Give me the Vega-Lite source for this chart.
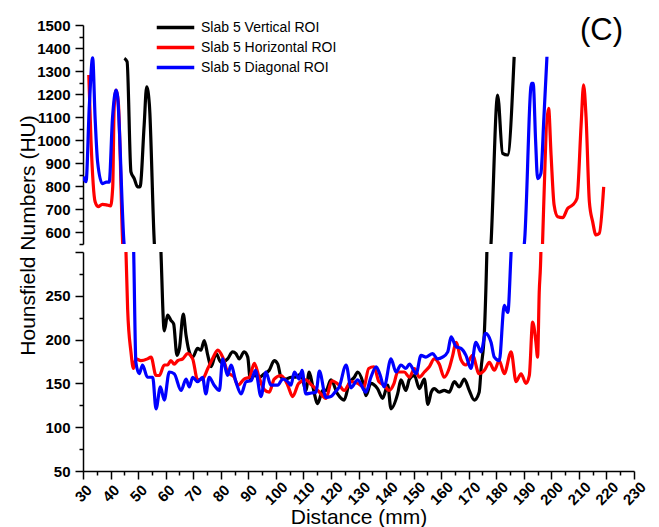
{
  "$schema": "https://vega.github.io/schema/vega-lite/v6.json",
  "padding": {"left": 17, "top": 15, "right": 5, "bottom": 2},
  "bounds": "flush",
  "config": {
    "font": "Liberation Sans",
    "view": {"stroke": null},
    "axis": {
      "grid": false,
      "domainColor": "black",
      "domainWidth": 1.5,
      "tickColor": "black",
      "tickWidth": 1.5,
      "labelFont": "Liberation Sans",
      "labelFontWeight": "bold",
      "labelFontSize": 15,
      "labelColor": "black",
      "labelOverlap": false,
      "titleFont": "Liberation Sans",
      "titleFontWeight": "normal",
      "titleFontSize": 21,
      "titleColor": "black"
    }
  },
  "data": {
    "values": [
      {"series": "Slab 5 Vertical ROI", "d": 45.0, "hu": 1355},
      {"series": "Slab 5 Vertical ROI", "d": 46.0, "hu": 1341},
      {"series": "Slab 5 Vertical ROI", "d": 47.4, "hu": 863},
      {"series": "Slab 5 Vertical ROI", "d": 48.6, "hu": 834},
      {"series": "Slab 5 Vertical ROI", "d": 49.8, "hu": 798},
      {"series": "Slab 5 Vertical ROI", "d": 50.7, "hu": 798},
      {"series": "Slab 5 Vertical ROI", "d": 52.2, "hu": 1066},
      {"series": "Slab 5 Vertical ROI", "d": 53.1, "hu": 1232},
      {"series": "Slab 5 Vertical ROI", "d": 54.1, "hu": 1153},
      {"series": "Slab 5 Vertical ROI", "d": 55.9, "hu": 552},
      {"series": "Slab 5 Vertical ROI", "d": 58.3, "hu": 300},
      {"series": "Slab 5 Vertical ROI", "d": 59.5, "hu": 210},
      {"series": "Slab 5 Vertical ROI", "d": 60.7, "hu": 228},
      {"series": "Slab 5 Vertical ROI", "d": 61.9, "hu": 222},
      {"series": "Slab 5 Vertical ROI", "d": 62.9, "hu": 218},
      {"series": "Slab 5 Vertical ROI", "d": 64.1, "hu": 182},
      {"series": "Slab 5 Vertical ROI", "d": 65.0, "hu": 190},
      {"series": "Slab 5 Vertical ROI", "d": 66.4, "hu": 229},
      {"series": "Slab 5 Vertical ROI", "d": 67.4, "hu": 205},
      {"series": "Slab 5 Vertical ROI", "d": 68.4, "hu": 188},
      {"series": "Slab 5 Vertical ROI", "d": 69.8, "hu": 180},
      {"series": "Slab 5 Vertical ROI", "d": 71.6, "hu": 190},
      {"series": "Slab 5 Vertical ROI", "d": 72.8, "hu": 188},
      {"series": "Slab 5 Vertical ROI", "d": 74.0, "hu": 199},
      {"series": "Slab 5 Vertical ROI", "d": 75.3, "hu": 182},
      {"series": "Slab 5 Vertical ROI", "d": 76.5, "hu": 169},
      {"series": "Slab 5 Vertical ROI", "d": 78.3, "hu": 184},
      {"series": "Slab 5 Vertical ROI", "d": 80.1, "hu": 174},
      {"series": "Slab 5 Vertical ROI", "d": 82.5, "hu": 178},
      {"series": "Slab 5 Vertical ROI", "d": 84.3, "hu": 186},
      {"series": "Slab 5 Vertical ROI", "d": 85.5, "hu": 184},
      {"series": "Slab 5 Vertical ROI", "d": 86.7, "hu": 178},
      {"series": "Slab 5 Vertical ROI", "d": 88.5, "hu": 186},
      {"series": "Slab 5 Vertical ROI", "d": 89.8, "hu": 180},
      {"series": "Slab 5 Vertical ROI", "d": 90.7, "hu": 155},
      {"series": "Slab 5 Vertical ROI", "d": 92.2, "hu": 159},
      {"series": "Slab 5 Vertical ROI", "d": 94.0, "hu": 157},
      {"series": "Slab 5 Vertical ROI", "d": 95.8, "hu": 161},
      {"series": "Slab 5 Vertical ROI", "d": 97.6, "hu": 165},
      {"series": "Slab 5 Vertical ROI", "d": 99.4, "hu": 176},
      {"series": "Slab 5 Vertical ROI", "d": 100.7, "hu": 172},
      {"series": "Slab 5 Vertical ROI", "d": 101.9, "hu": 157},
      {"series": "Slab 5 Vertical ROI", "d": 103.7, "hu": 155},
      {"series": "Slab 5 Vertical ROI", "d": 105.5, "hu": 157},
      {"series": "Slab 5 Vertical ROI", "d": 107.3, "hu": 157},
      {"series": "Slab 5 Vertical ROI", "d": 109.1, "hu": 161},
      {"series": "Slab 5 Vertical ROI", "d": 110.9, "hu": 142},
      {"series": "Slab 5 Vertical ROI", "d": 112.1, "hu": 163},
      {"series": "Slab 5 Vertical ROI", "d": 113.3, "hu": 148},
      {"series": "Slab 5 Vertical ROI", "d": 115.2, "hu": 127},
      {"series": "Slab 5 Vertical ROI", "d": 117.0, "hu": 142},
      {"series": "Slab 5 Vertical ROI", "d": 118.2, "hu": 142},
      {"series": "Slab 5 Vertical ROI", "d": 120.0, "hu": 154},
      {"series": "Slab 5 Vertical ROI", "d": 122.4, "hu": 138},
      {"series": "Slab 5 Vertical ROI", "d": 124.8, "hu": 131},
      {"series": "Slab 5 Vertical ROI", "d": 126.6, "hu": 150},
      {"series": "Slab 5 Vertical ROI", "d": 128.5, "hu": 157},
      {"series": "Slab 5 Vertical ROI", "d": 129.7, "hu": 163},
      {"series": "Slab 5 Vertical ROI", "d": 131.5, "hu": 152},
      {"series": "Slab 5 Vertical ROI", "d": 132.7, "hu": 136},
      {"series": "Slab 5 Vertical ROI", "d": 134.5, "hu": 150},
      {"series": "Slab 5 Vertical ROI", "d": 136.9, "hu": 144},
      {"series": "Slab 5 Vertical ROI", "d": 138.8, "hu": 133},
      {"series": "Slab 5 Vertical ROI", "d": 140.6, "hu": 148},
      {"series": "Slab 5 Vertical ROI", "d": 141.8, "hu": 121},
      {"series": "Slab 5 Vertical ROI", "d": 144.2, "hu": 138},
      {"series": "Slab 5 Vertical ROI", "d": 145.4, "hu": 154},
      {"series": "Slab 5 Vertical ROI", "d": 147.2, "hu": 142},
      {"series": "Slab 5 Vertical ROI", "d": 148.5, "hu": 155},
      {"series": "Slab 5 Vertical ROI", "d": 150.3, "hu": 159},
      {"series": "Slab 5 Vertical ROI", "d": 152.1, "hu": 144},
      {"series": "Slab 5 Vertical ROI", "d": 153.9, "hu": 155},
      {"series": "Slab 5 Vertical ROI", "d": 155.2, "hu": 126},
      {"series": "Slab 5 Vertical ROI", "d": 156.4, "hu": 140},
      {"series": "Slab 5 Vertical ROI", "d": 157.5, "hu": 144},
      {"series": "Slab 5 Vertical ROI", "d": 159.3, "hu": 140},
      {"series": "Slab 5 Vertical ROI", "d": 161.1, "hu": 142},
      {"series": "Slab 5 Vertical ROI", "d": 162.9, "hu": 140},
      {"series": "Slab 5 Vertical ROI", "d": 164.8, "hu": 152},
      {"series": "Slab 5 Vertical ROI", "d": 166.6, "hu": 146},
      {"series": "Slab 5 Vertical ROI", "d": 168.4, "hu": 155},
      {"series": "Slab 5 Vertical ROI", "d": 170.2, "hu": 142},
      {"series": "Slab 5 Vertical ROI", "d": 172.0, "hu": 131},
      {"series": "Slab 5 Vertical ROI", "d": 173.8, "hu": 140},
      {"series": "Slab 5 Vertical ROI", "d": 174.5, "hu": 167},
      {"series": "Slab 5 Vertical ROI", "d": 175.7, "hu": 209},
      {"series": "Slab 5 Vertical ROI", "d": 176.6, "hu": 300},
      {"series": "Slab 5 Vertical ROI", "d": 178.1, "hu": 552},
      {"series": "Slab 5 Vertical ROI", "d": 180.5, "hu": 1196},
      {"series": "Slab 5 Vertical ROI", "d": 182.3, "hu": 943},
      {"series": "Slab 5 Vertical ROI", "d": 184.1, "hu": 936},
      {"series": "Slab 5 Vertical ROI", "d": 186.5, "hu": 1362},

      {"series": "Slab 5 Horizontal ROI", "d": 32.1, "hu": 1283},
      {"series": "Slab 5 Horizontal ROI", "d": 32.9, "hu": 1000},
      {"series": "Slab 5 Horizontal ROI", "d": 34.4, "hu": 733},
      {"series": "Slab 5 Horizontal ROI", "d": 35.5, "hu": 712},
      {"series": "Slab 5 Horizontal ROI", "d": 37.0, "hu": 722},
      {"series": "Slab 5 Horizontal ROI", "d": 38.5, "hu": 720},
      {"series": "Slab 5 Horizontal ROI", "d": 40.0, "hu": 715},
      {"series": "Slab 5 Horizontal ROI", "d": 40.8, "hu": 800},
      {"series": "Slab 5 Horizontal ROI", "d": 41.3, "hu": 1138},
      {"series": "Slab 5 Horizontal ROI", "d": 42.0, "hu": 1218},
      {"series": "Slab 5 Horizontal ROI", "d": 42.8, "hu": 1167},
      {"series": "Slab 5 Horizontal ROI", "d": 44.4, "hu": 552},
      {"series": "Slab 5 Horizontal ROI", "d": 45.6, "hu": 300},
      {"series": "Slab 5 Horizontal ROI", "d": 46.2, "hu": 235},
      {"series": "Slab 5 Horizontal ROI", "d": 47.4, "hu": 186},
      {"series": "Slab 5 Horizontal ROI", "d": 48.3, "hu": 167},
      {"series": "Slab 5 Horizontal ROI", "d": 49.2, "hu": 178},
      {"series": "Slab 5 Horizontal ROI", "d": 51.0, "hu": 176},
      {"series": "Slab 5 Horizontal ROI", "d": 53.4, "hu": 178},
      {"series": "Slab 5 Horizontal ROI", "d": 54.7, "hu": 180},
      {"series": "Slab 5 Horizontal ROI", "d": 56.5, "hu": 159},
      {"series": "Slab 5 Horizontal ROI", "d": 57.7, "hu": 159},
      {"series": "Slab 5 Horizontal ROI", "d": 59.5, "hu": 171},
      {"series": "Slab 5 Horizontal ROI", "d": 60.7, "hu": 171},
      {"series": "Slab 5 Horizontal ROI", "d": 61.9, "hu": 176},
      {"series": "Slab 5 Horizontal ROI", "d": 63.1, "hu": 172},
      {"series": "Slab 5 Horizontal ROI", "d": 64.4, "hu": 176},
      {"series": "Slab 5 Horizontal ROI", "d": 66.2, "hu": 178},
      {"series": "Slab 5 Horizontal ROI", "d": 68.0, "hu": 184},
      {"series": "Slab 5 Horizontal ROI", "d": 69.8, "hu": 178},
      {"series": "Slab 5 Horizontal ROI", "d": 71.6, "hu": 154},
      {"series": "Slab 5 Horizontal ROI", "d": 73.4, "hu": 155},
      {"series": "Slab 5 Horizontal ROI", "d": 75.3, "hu": 167},
      {"series": "Slab 5 Horizontal ROI", "d": 77.0, "hu": 178},
      {"series": "Slab 5 Horizontal ROI", "d": 78.9, "hu": 188},
      {"series": "Slab 5 Horizontal ROI", "d": 80.7, "hu": 180},
      {"series": "Slab 5 Horizontal ROI", "d": 82.5, "hu": 163},
      {"series": "Slab 5 Horizontal ROI", "d": 84.9, "hu": 157},
      {"series": "Slab 5 Horizontal ROI", "d": 86.2, "hu": 148},
      {"series": "Slab 5 Horizontal ROI", "d": 88.5, "hu": 155},
      {"series": "Slab 5 Horizontal ROI", "d": 90.4, "hu": 157},
      {"series": "Slab 5 Horizontal ROI", "d": 92.2, "hu": 173},
      {"series": "Slab 5 Horizontal ROI", "d": 94.0, "hu": 156},
      {"series": "Slab 5 Horizontal ROI", "d": 95.8, "hu": 143},
      {"series": "Slab 5 Horizontal ROI", "d": 97.6, "hu": 140},
      {"series": "Slab 5 Horizontal ROI", "d": 99.4, "hu": 155},
      {"series": "Slab 5 Horizontal ROI", "d": 101.9, "hu": 159},
      {"series": "Slab 5 Horizontal ROI", "d": 104.3, "hu": 148},
      {"series": "Slab 5 Horizontal ROI", "d": 106.1, "hu": 135},
      {"series": "Slab 5 Horizontal ROI", "d": 108.3, "hu": 150},
      {"series": "Slab 5 Horizontal ROI", "d": 110.9, "hu": 154},
      {"series": "Slab 5 Horizontal ROI", "d": 113.0, "hu": 148},
      {"series": "Slab 5 Horizontal ROI", "d": 115.5, "hu": 141},
      {"series": "Slab 5 Horizontal ROI", "d": 118.2, "hu": 133},
      {"series": "Slab 5 Horizontal ROI", "d": 120.3, "hu": 153},
      {"series": "Slab 5 Horizontal ROI", "d": 123.0, "hu": 148},
      {"series": "Slab 5 Horizontal ROI", "d": 124.8, "hu": 142},
      {"series": "Slab 5 Horizontal ROI", "d": 127.3, "hu": 152},
      {"series": "Slab 5 Horizontal ROI", "d": 129.7, "hu": 150},
      {"series": "Slab 5 Horizontal ROI", "d": 131.9, "hu": 146},
      {"series": "Slab 5 Horizontal ROI", "d": 133.7, "hu": 167},
      {"series": "Slab 5 Horizontal ROI", "d": 135.6, "hu": 169},
      {"series": "Slab 5 Horizontal ROI", "d": 137.4, "hu": 152},
      {"series": "Slab 5 Horizontal ROI", "d": 139.3, "hu": 148},
      {"series": "Slab 5 Horizontal ROI", "d": 141.1, "hu": 142},
      {"series": "Slab 5 Horizontal ROI", "d": 142.9, "hu": 150},
      {"series": "Slab 5 Horizontal ROI", "d": 144.2, "hu": 163},
      {"series": "Slab 5 Horizontal ROI", "d": 146.6, "hu": 163},
      {"series": "Slab 5 Horizontal ROI", "d": 148.5, "hu": 157},
      {"series": "Slab 5 Horizontal ROI", "d": 150.3, "hu": 167},
      {"series": "Slab 5 Horizontal ROI", "d": 152.1, "hu": 157},
      {"series": "Slab 5 Horizontal ROI", "d": 153.9, "hu": 163},
      {"series": "Slab 5 Horizontal ROI", "d": 155.7, "hu": 169},
      {"series": "Slab 5 Horizontal ROI", "d": 157.5, "hu": 178},
      {"series": "Slab 5 Horizontal ROI", "d": 159.3, "hu": 172},
      {"series": "Slab 5 Horizontal ROI", "d": 161.1, "hu": 157},
      {"series": "Slab 5 Horizontal ROI", "d": 162.9, "hu": 167},
      {"series": "Slab 5 Horizontal ROI", "d": 164.2, "hu": 182},
      {"series": "Slab 5 Horizontal ROI", "d": 165.4, "hu": 197},
      {"series": "Slab 5 Horizontal ROI", "d": 167.2, "hu": 177},
      {"series": "Slab 5 Horizontal ROI", "d": 169.0, "hu": 171},
      {"series": "Slab 5 Horizontal ROI", "d": 171.4, "hu": 182},
      {"series": "Slab 5 Horizontal ROI", "d": 173.8, "hu": 161},
      {"series": "Slab 5 Horizontal ROI", "d": 175.7, "hu": 165},
      {"series": "Slab 5 Horizontal ROI", "d": 177.5, "hu": 174},
      {"series": "Slab 5 Horizontal ROI", "d": 179.3, "hu": 165},
      {"series": "Slab 5 Horizontal ROI", "d": 181.1, "hu": 176},
      {"series": "Slab 5 Horizontal ROI", "d": 182.9, "hu": 161},
      {"series": "Slab 5 Horizontal ROI", "d": 185.4, "hu": 186},
      {"series": "Slab 5 Horizontal ROI", "d": 187.2, "hu": 152},
      {"series": "Slab 5 Horizontal ROI", "d": 189.0, "hu": 161},
      {"series": "Slab 5 Horizontal ROI", "d": 190.8, "hu": 150},
      {"series": "Slab 5 Horizontal ROI", "d": 192.0, "hu": 159},
      {"series": "Slab 5 Horizontal ROI", "d": 193.2, "hu": 220},
      {"series": "Slab 5 Horizontal ROI", "d": 194.4, "hu": 197},
      {"series": "Slab 5 Horizontal ROI", "d": 195.0, "hu": 180},
      {"series": "Slab 5 Horizontal ROI", "d": 195.6, "hu": 254},
      {"series": "Slab 5 Horizontal ROI", "d": 196.2, "hu": 300},
      {"series": "Slab 5 Horizontal ROI", "d": 196.8, "hu": 552},
      {"series": "Slab 5 Horizontal ROI", "d": 199.0, "hu": 1138},
      {"series": "Slab 5 Horizontal ROI", "d": 199.9, "hu": 936},
      {"series": "Slab 5 Horizontal ROI", "d": 201.0, "hu": 719},
      {"series": "Slab 5 Horizontal ROI", "d": 202.3, "hu": 668},
      {"series": "Slab 5 Horizontal ROI", "d": 204.1, "hu": 664},
      {"series": "Slab 5 Horizontal ROI", "d": 205.9, "hu": 704},
      {"series": "Slab 5 Horizontal ROI", "d": 207.7, "hu": 719},
      {"series": "Slab 5 Horizontal ROI", "d": 209.3, "hu": 747},
      {"series": "Slab 5 Horizontal ROI", "d": 210.8, "hu": 1066},
      {"series": "Slab 5 Horizontal ROI", "d": 211.7, "hu": 1240},
      {"series": "Slab 5 Horizontal ROI", "d": 212.6, "hu": 1100},
      {"series": "Slab 5 Horizontal ROI", "d": 213.8, "hu": 733},
      {"series": "Slab 5 Horizontal ROI", "d": 215.0, "hu": 646},
      {"series": "Slab 5 Horizontal ROI", "d": 216.2, "hu": 589},
      {"series": "Slab 5 Horizontal ROI", "d": 217.4, "hu": 596},
      {"series": "Slab 5 Horizontal ROI", "d": 219.0, "hu": 798},

      {"series": "Slab 5 Diagonal ROI", "d": 30.0, "hu": 842},
      {"series": "Slab 5 Diagonal ROI", "d": 31.1, "hu": 820},
      {"series": "Slab 5 Diagonal ROI", "d": 32.3, "hu": 1150},
      {"series": "Slab 5 Diagonal ROI", "d": 33.5, "hu": 1358},
      {"series": "Slab 5 Diagonal ROI", "d": 34.4, "hu": 1095},
      {"series": "Slab 5 Diagonal ROI", "d": 35.3, "hu": 906},
      {"series": "Slab 5 Diagonal ROI", "d": 37.0, "hu": 812},
      {"series": "Slab 5 Diagonal ROI", "d": 38.5, "hu": 818},
      {"series": "Slab 5 Diagonal ROI", "d": 39.5, "hu": 818},
      {"series": "Slab 5 Diagonal ROI", "d": 40.7, "hu": 1095},
      {"series": "Slab 5 Diagonal ROI", "d": 42.0, "hu": 1218},
      {"series": "Slab 5 Diagonal ROI", "d": 42.5, "hu": 1196},
      {"series": "Slab 5 Diagonal ROI", "d": 44.9, "hu": 552},
      {"series": "Slab 5 Diagonal ROI", "d": 48.4, "hu": 300},
      {"series": "Slab 5 Diagonal ROI", "d": 49.2, "hu": 174},
      {"series": "Slab 5 Diagonal ROI", "d": 50.4, "hu": 161},
      {"series": "Slab 5 Diagonal ROI", "d": 51.6, "hu": 171},
      {"series": "Slab 5 Diagonal ROI", "d": 53.4, "hu": 157},
      {"series": "Slab 5 Diagonal ROI", "d": 55.3, "hu": 157},
      {"series": "Slab 5 Diagonal ROI", "d": 56.5, "hu": 121},
      {"series": "Slab 5 Diagonal ROI", "d": 58.1, "hu": 146},
      {"series": "Slab 5 Diagonal ROI", "d": 59.5, "hu": 131},
      {"series": "Slab 5 Diagonal ROI", "d": 61.3, "hu": 163},
      {"series": "Slab 5 Diagonal ROI", "d": 63.1, "hu": 161},
      {"series": "Slab 5 Diagonal ROI", "d": 65.6, "hu": 142},
      {"series": "Slab 5 Diagonal ROI", "d": 67.4, "hu": 155},
      {"series": "Slab 5 Diagonal ROI", "d": 68.6, "hu": 146},
      {"series": "Slab 5 Diagonal ROI", "d": 69.8, "hu": 157},
      {"series": "Slab 5 Diagonal ROI", "d": 71.6, "hu": 152},
      {"series": "Slab 5 Diagonal ROI", "d": 73.4, "hu": 157},
      {"series": "Slab 5 Diagonal ROI", "d": 74.6, "hu": 138},
      {"series": "Slab 5 Diagonal ROI", "d": 75.8, "hu": 157},
      {"series": "Slab 5 Diagonal ROI", "d": 77.6, "hu": 148},
      {"series": "Slab 5 Diagonal ROI", "d": 79.5, "hu": 142},
      {"series": "Slab 5 Diagonal ROI", "d": 80.7, "hu": 178},
      {"series": "Slab 5 Diagonal ROI", "d": 82.5, "hu": 159},
      {"series": "Slab 5 Diagonal ROI", "d": 83.7, "hu": 171},
      {"series": "Slab 5 Diagonal ROI", "d": 85.5, "hu": 152},
      {"series": "Slab 5 Diagonal ROI", "d": 87.4, "hu": 138},
      {"series": "Slab 5 Diagonal ROI", "d": 89.2, "hu": 152},
      {"series": "Slab 5 Diagonal ROI", "d": 91.0, "hu": 153},
      {"series": "Slab 5 Diagonal ROI", "d": 92.6, "hu": 165},
      {"series": "Slab 5 Diagonal ROI", "d": 94.6, "hu": 135},
      {"series": "Slab 5 Diagonal ROI", "d": 96.4, "hu": 163},
      {"series": "Slab 5 Diagonal ROI", "d": 98.2, "hu": 148},
      {"series": "Slab 5 Diagonal ROI", "d": 100.7, "hu": 148},
      {"series": "Slab 5 Diagonal ROI", "d": 102.5, "hu": 155},
      {"series": "Slab 5 Diagonal ROI", "d": 104.3, "hu": 152},
      {"series": "Slab 5 Diagonal ROI", "d": 105.5, "hu": 148},
      {"series": "Slab 5 Diagonal ROI", "d": 106.7, "hu": 163},
      {"series": "Slab 5 Diagonal ROI", "d": 108.5, "hu": 155},
      {"series": "Slab 5 Diagonal ROI", "d": 109.5, "hu": 165},
      {"series": "Slab 5 Diagonal ROI", "d": 110.9, "hu": 138},
      {"series": "Slab 5 Diagonal ROI", "d": 112.8, "hu": 139},
      {"series": "Slab 5 Diagonal ROI", "d": 114.6, "hu": 140},
      {"series": "Slab 5 Diagonal ROI", "d": 115.8, "hu": 164},
      {"series": "Slab 5 Diagonal ROI", "d": 118.2, "hu": 134},
      {"series": "Slab 5 Diagonal ROI", "d": 120.0, "hu": 135},
      {"series": "Slab 5 Diagonal ROI", "d": 121.5, "hu": 140},
      {"series": "Slab 5 Diagonal ROI", "d": 123.0, "hu": 146},
      {"series": "Slab 5 Diagonal ROI", "d": 125.5, "hu": 171},
      {"series": "Slab 5 Diagonal ROI", "d": 127.3, "hu": 145},
      {"series": "Slab 5 Diagonal ROI", "d": 129.7, "hu": 154},
      {"series": "Slab 5 Diagonal ROI", "d": 132.7, "hu": 140},
      {"series": "Slab 5 Diagonal ROI", "d": 134.5, "hu": 157},
      {"series": "Slab 5 Diagonal ROI", "d": 136.4, "hu": 169},
      {"series": "Slab 5 Diagonal ROI", "d": 137.8, "hu": 160},
      {"series": "Slab 5 Diagonal ROI", "d": 139.3, "hu": 146},
      {"series": "Slab 5 Diagonal ROI", "d": 141.8, "hu": 178},
      {"series": "Slab 5 Diagonal ROI", "d": 143.6, "hu": 163},
      {"series": "Slab 5 Diagonal ROI", "d": 145.4, "hu": 171},
      {"series": "Slab 5 Diagonal ROI", "d": 147.2, "hu": 167},
      {"series": "Slab 5 Diagonal ROI", "d": 148.5, "hu": 172},
      {"series": "Slab 5 Diagonal ROI", "d": 150.9, "hu": 161},
      {"series": "Slab 5 Diagonal ROI", "d": 152.7, "hu": 182},
      {"series": "Slab 5 Diagonal ROI", "d": 154.5, "hu": 180},
      {"series": "Slab 5 Diagonal ROI", "d": 156.9, "hu": 184},
      {"series": "Slab 5 Diagonal ROI", "d": 158.7, "hu": 178},
      {"series": "Slab 5 Diagonal ROI", "d": 160.5, "hu": 180},
      {"series": "Slab 5 Diagonal ROI", "d": 162.4, "hu": 186},
      {"series": "Slab 5 Diagonal ROI", "d": 163.6, "hu": 203},
      {"series": "Slab 5 Diagonal ROI", "d": 165.4, "hu": 192},
      {"series": "Slab 5 Diagonal ROI", "d": 167.2, "hu": 190},
      {"series": "Slab 5 Diagonal ROI", "d": 169.0, "hu": 182},
      {"series": "Slab 5 Diagonal ROI", "d": 170.8, "hu": 167},
      {"series": "Slab 5 Diagonal ROI", "d": 172.6, "hu": 197},
      {"series": "Slab 5 Diagonal ROI", "d": 174.5, "hu": 186},
      {"series": "Slab 5 Diagonal ROI", "d": 176.1, "hu": 207},
      {"series": "Slab 5 Diagonal ROI", "d": 178.1, "hu": 197},
      {"series": "Slab 5 Diagonal ROI", "d": 179.3, "hu": 180},
      {"series": "Slab 5 Diagonal ROI", "d": 181.1, "hu": 176},
      {"series": "Slab 5 Diagonal ROI", "d": 182.9, "hu": 239},
      {"series": "Slab 5 Diagonal ROI", "d": 184.2, "hu": 231},
      {"series": "Slab 5 Diagonal ROI", "d": 185.4, "hu": 300},
      {"series": "Slab 5 Diagonal ROI", "d": 190.2, "hu": 552},
      {"series": "Slab 5 Diagonal ROI", "d": 192.8, "hu": 1247},
      {"series": "Slab 5 Diagonal ROI", "d": 193.4, "hu": 1247},
      {"series": "Slab 5 Diagonal ROI", "d": 194.3, "hu": 994},
      {"series": "Slab 5 Diagonal ROI", "d": 195.0, "hu": 834},
      {"series": "Slab 5 Diagonal ROI", "d": 196.2, "hu": 856},
      {"series": "Slab 5 Diagonal ROI", "d": 197.3, "hu": 1100},
      {"series": "Slab 5 Diagonal ROI", "d": 198.4, "hu": 1362}
    ]
  },
  "spacing": 8,
  "resolve": {
    "scale": {"x": "independent", "y": "independent", "color": "independent"},
    "legend": {"color": "independent"}
  },
  "vconcat": [
    {
      "width": 551,
      "height": 219,
      "title": {
        "text": "(C)",
        "anchor": "end",
        "frame": "group",
        "fontSize": 31,
        "fontWeight": "normal",
        "color": "black",
        "baseline": "alphabetic",
        "offset": 0,
        "dx": -11,
        "dy": 53
      },
      "mark": {"type": "line", "clip": true, "strokeWidth": 3.2, "interpolate": "monotone"},
      "encoding": {
        "x": {
          "field": "d", "type": "quantitative",
          "scale": {"domain": [30, 230], "nice": false, "zero": false},
          "axis": null
        },
        "y": {
          "field": "hu", "type": "quantitative",
          "scale": {"domain": [550, 1500], "nice": false, "zero": false},
          "axis": {
            "values": [550, 600, 650, 700, 750, 800, 850, 900, 950, 1000, 1050, 1100, 1150, 1200, 1250, 1300, 1350, 1400, 1450, 1500],
            "format": "d",
            "labelExpr": "datum.value % 100 === 0 ? datum.label : ''",
            "tickSize": {"condition": {"test": "datum.value % 100 === 0", "value": 8}, "value": 4},
            "labelPadding": 5,
            "title": "Hounsfield Numbers (HU)",
            "titleY": 210,
            "titleX": -49,
            "titleBaseline": "alphabetic"
          }
        },
        "color": {
          "field": "series", "type": "nominal",
          "scale": {
            "domain": ["Slab 5 Vertical ROI", "Slab 5 Horizontal ROI", "Slab 5 Diagonal ROI"],
            "range": ["#000000", "#ff0000", "#0000ff"]
          },
          "legend": {
            "orient": "none",
            "legendX": 83,
            "legendY": -7,
            "title": null,
            "padding": 0,
            "symbolType": "M-2.5,0H2.5",
            "symbolSize": 225,
            "symbolStrokeWidth": 3.5,
            "labelFont": "Liberation Sans",
            "labelFontSize": 14,
            "labelColor": "black",
            "labelOffset": 16,
            "rowPadding": 3
          }
        },
        "order": {"field": "d", "type": "quantitative"}
      }
    },
    {
      "width": 551,
      "height": 219,
      "mark": {"type": "line", "clip": true, "strokeWidth": 3.2, "interpolate": "monotone"},
      "encoding": {
        "x": {
          "field": "d", "type": "quantitative",
          "scale": {"domain": [30, 230], "nice": false, "zero": false},
          "axis": {
            "values": [30, 35, 40, 45, 50, 55, 60, 65, 70, 75, 80, 85, 90, 95, 100, 105, 110, 115, 120, 125, 130, 135, 140, 145, 150, 155, 160, 165, 170, 175, 180, 185, 190, 195, 200, 205, 210, 215, 220, 225, 230],
            "format": "d",
            "labelExpr": "datum.value % 10 === 0 ? datum.label : ''",
            "tickSize": {"condition": {"test": "datum.value % 10 === 0", "value": 8}, "value": 4},
            "labelAngle": -45,
            "labelAlign": "center",
            "labelBaseline": "middle",
            "labelPadding": 14,
            "labelOffset": 0,
            "title": "Distance (mm)",
            "titleY": 52.5,
            "titleBaseline": "alphabetic"
          }
        },
        "y": {
          "field": "hu", "type": "quantitative",
          "scale": {"domain": [50, 300], "nice": false, "zero": false},
          "axis": {
            "values": [50, 75, 100, 125, 150, 175, 200, 225, 250, 275, 300],
            "format": "d",
            "labelExpr": "datum.value % 50 === 0 && datum.value < 300 ? datum.label : ''",
            "tickSize": {"condition": {"test": "datum.value % 50 === 0", "value": 8}, "value": 4},
            "labelPadding": 5,
            "title": null
          }
        },
        "color": {
          "field": "series", "type": "nominal",
          "scale": {
            "domain": ["Slab 5 Vertical ROI", "Slab 5 Horizontal ROI", "Slab 5 Diagonal ROI"],
            "range": ["#000000", "#ff0000", "#0000ff"]
          },
          "legend": null
        },
        "order": {"field": "d", "type": "quantitative"}
      }
    }
  ]
}
